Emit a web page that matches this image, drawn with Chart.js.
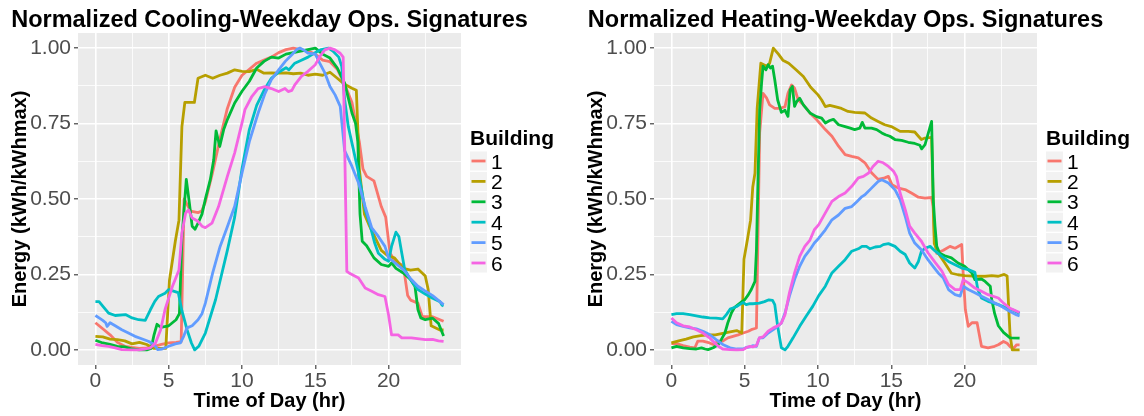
<!DOCTYPE html>
<html>
<head>
<meta charset="utf-8">
<title>Normalized Weekday Ops. Signatures</title>
<script src="https://cdn.jsdelivr.net/npm/chart.js@4.4.1/dist/chart.umd.min.js"></script>
<style>
  html, body { margin: 0; padding: 0; background: #fff; overflow: hidden; }
  .panel { position: absolute; top: 0; height: 416px; }
  #coolPanel { left: 0; width: 575px; }
  #heatPanel { left: 576px; width: 568px; }
</style>
</head>
<body>
<div class="panel" id="coolPanel"><canvas id="cooling" width="575" height="416"></canvas></div>
<div class="panel" id="heatPanel"><canvas id="heating" width="568" height="416"></canvas></div>
<script>
// building ids and ggplot default hue palette
var buildings = ['1', '2', '3', '4', '5', '6'];
var colors = ['#F8766D', '#B79F00', '#00BA38', '#00BFC4', '#619CFF', '#F564E3'];

// axis breaks (majors get labels, minors only a light grid line)
var hourTicks = [0, 2.5, 5, 7.5, 10, 12.5, 15, 17.5, 20, 22.5];
var energyTicks = [0, 0.125, 0.25, 0.375, 0.5, 0.625, 0.75, 0.875, 1];

// cooling season, weekday profiles: [hour, kWh/kWhmax]
var cool1 = [[0,.09],[0.5,.07],[1,.05],[1.5,.025],[2,.012],[2.5,.008],[3,.005],[3.5,.007],[4,.012],[4.5,.018],[5,.023],[5.5,.025],[5.85,.027],[6.05,.5],[6.5,.46],[7,.455],[7.25,.46],[7.5,.49],[8,.59],[8.5,.70],[9,.80],[9.5,.87],[10,.91],[10.5,.93],[11,.95],[11.5,.96],[12,.97],[12.5,.985],[13,.995],[13.5,1.0],[14,.995],[14.5,.99],[15,.98],[15.5,.96],[16,.955],[16.5,.93],[17,.88],[17.5,.82],[18,.69],[18.25,.60],[18.5,.575],[19,.56],[19.5,.475],[19.8,.44],[20.1,.32],[20.5,.29],[21,.28],[21.3,.18],[21.5,.165],[22,.155],[22.3,.11],[23,.11],[23.5,.10],[23.75,.095]];
var cool2 = [[0,.045],[0.5,.043],[1,.036],[1.5,.034],[2,.03],[2.5,.02],[3,.025],[3.5,.018],[4,.005],[4.8,.005],[5.05,.23],[5.45,.36],[5.7,.43],[5.9,.74],[6.1,.82],[6.75,.82],[7,.90],[7.5,.91],[8,.90],[8.5,.91],[9,.917],[9.5,.928],[10,.923],[10.5,.922],[11,.93],[11.5,.917],[12,.918],[12.5,.917],[13,.918],[13.5,.915],[14,.917],[14.5,.91],[15,.914],[15.5,.91],[16,.92],[16.5,.90],[17,.88],[17.5,.867],[17.8,.86],[18,.60],[18.35,.45],[18.7,.41],[19.1,.37],[19.5,.33],[20,.31],[20.4,.305],[21,.27],[21.5,.264],[22,.268],[22.5,.245],[22.7,.2],[22.9,.08],[23.5,.066],[23.75,.066]];
var cool3 = [[0,.032],[0.5,.023],[1,.018],[1.5,.012],[2,.01],[2.5,.003],[3,0],[3.5,0],[3.8,.005],[4,.05],[4.2,.085],[4.45,.075],[5,.08],[5.5,.10],[5.73,.12],[5.9,.37],[6.2,.565],[6.4,.49],[6.6,.41],[6.8,.40],[7,.42],[7.27,.45],[7.5,.50],[7.84,.565],[8.07,.63],[8.23,.726],[8.48,.674],[8.75,.73],[9,.763],[9.5,.818],[10,.857],[10.5,.89],[11,.934],[11.5,.956],[12,.97],[12.5,.967],[13,.98],[13.5,.985],[14,.99],[14.5,.995],[15,1.0],[15.5,.98],[16,.967],[16.5,.934],[17,.884],[17.5,.785],[17.75,.75],[17.9,.69],[18.05,.45],[18.2,.36],[18.5,.345],[19,.305],[19.5,.283],[20,.277],[20.2,.288],[20.5,.27],[21,.255],[21.5,.233],[21.8,.21],[22,.134],[22.2,.106],[22.5,.10],[23,.105],[23.4,.088],[23.75,.046]];
var cool4 = [[0,.16],[0.25,.16],[0.5,.145],[0.9,.122],[1.35,.114],[2.05,.117],[2.5,.106],[2.95,.10],[3.4,.098],[3.75,.133],[4.05,.161],[4.3,.177],[4.75,.188],[5,.2],[5.65,.19],[5.9,.13],[6.25,.067],[6.55,.023],[6.77,0],[7.05,.012],[7.5,.056],[8.2,.167],[9,.33],[9.5,.44],[10,.60],[10.5,.73],[11,.81],[11.5,.86],[12,.90],[12.5,.92],[13,.935],[13.2,.928],[13.6,.95],[14.05,.96],[14.5,.97],[15,.985],[15.4,.995],[15.9,1.0],[16.2,.99],[16.6,.97],[16.8,.94],[17,.83],[17.25,.74],[17.5,.685],[17.95,.586],[18.4,.465],[18.75,.41],[19.05,.354],[19.3,.32],[19.75,.30],[20,.294],[20.2,.343],[20.5,.39],[20.7,.376],[20.9,.32],[21.1,.266],[21.5,.233],[22,.20],[22.5,.185],[23,.171],[23.5,.16],[23.65,.148],[23.75,.146]];
var cool5 = [[0,.114],[0.25,.106],[0.5,.098],[0.7,.09],[0.8,.078],[1,.09],[1.35,.08],[1.8,.067],[2.25,.056],[2.7,.045],[3.2,.036],[3.65,.028],[4,.018],[4.25,.001],[4.55,.003],[5,.012],[5.45,.02],[5.8,.023],[6.02,.045],[6.25,.073],[6.6,.08],[7,.10],[7.27,.12],[7.5,.155],[8,.255],[8.5,.342],[9,.408],[9.5,.476],[10,.586],[10.5,.69],[11.1,.785],[11.57,.85],[12,.895],[12.5,.928],[12.95,.956],[13.4,.978],[13.73,.995],[13.95,1.0],[14.2,.994],[14.5,.983],[15,.98],[15.3,.95],[15.66,.917],[16,.873],[16.35,.845],[16.7,.807],[17,.66],[17.5,.608],[17.95,.553],[18.4,.475],[18.85,.404],[19.3,.376],[19.75,.343],[20,.305],[20.45,.288],[21,.266],[21.55,.233],[22,.211],[22.5,.195],[23,.18],[23.5,.16],[23.75,.15]];
var cool6 = [[0,.018],[0.45,.014],[0.9,.012],[1.35,.007],[1.8,.001],[2.5,0],[2.95,0],[3.4,.003],[3.75,.007],[4.1,.023],[4.45,.067],[4.75,.134],[5.25,.21],[5.7,.265],[5.9,.387],[6.15,.453],[6.35,.464],[6.6,.437],[7,.426],[7.27,.41],[7.5,.405],[7.95,.42],[8.4,.475],[9,.575],[9.5,.653],[10,.752],[10.2,.796],[10.65,.838],[11.1,.866],[11.55,.872],[12,.866],[12.5,.856],[12.93,.866],[13.15,.856],[13.4,.86],[13.6,.878],[14.05,.906],[14.5,.923],[15,.945],[15.3,.972],[15.65,.994],[16,1.0],[16.35,.994],[16.7,.983],[16.9,.97],[17.15,.26],[17.3,.255],[17.95,.238],[18.4,.205],[18.85,.194],[19.3,.183],[19.75,.177],[20,.115],[20.2,.05],[20.65,.05],[20.9,.04],[21.55,.04],[22.5,.034],[23,.035],[23.4,.03],[23.75,.028]];

// heating season, weekday profiles: [hour, kWh/kWhmax]
var heat1 = [[0,.021],[0.35,.021],[0.8,.014],[1.25,.009],[1.6,.007],[1.8,.029],[2.15,.029],[2.6,.023],[2.85,.018],[3.2,.029],[3.5,.029],[3.85,.04],[4.2,.045],[4.55,.05],[4.9,.056],[5.25,.062],[5.45,.067],[5.7,.071],[5.8,.073],[6.02,.72],[6.25,.85],[6.5,.834],[6.7,.812],[7.05,.80],[7.4,.80],[7.75,.806],[7.95,.85],[8.2,.878],[8.4,.867],[8.65,.828],[9,.812],[9.45,.785],[9.9,.763],[10.5,.73],[10.95,.708],[11.4,.675],[11.85,.647],[12.3,.641],[12.75,.636],[13.2,.62],[13.65,.587],[14.1,.565],[14.55,.57],[14.8,.575],[15.05,.547],[15.5,.536],[16,.53],[16.4,.519],[16.85,.506],[17.3,.503],[17.75,.505],[17.85,.475],[17.95,.365],[18.1,.32],[18.55,.33],[19,.343],[19.35,.337],[19.8,.349],[19.9,.256],[20.05,.134],[20.25,.078],[20.5,.09],[20.85,.09],[21.15,.012],[21.6,.007],[22.05,.012],[22.3,.017],[22.65,.028],[22.9,.022],[23.1,.011],[23.35,.006],[23.55,.017],[23.75,.017]];
var heat2 = [[0,.023],[0.5,.03],[1,.036],[1.5,.043],[2,.047],[2.5,.05],[3,.05],[3.5,.055],[4,.06],[4.45,.064],[4.8,.056],[4.95,.30],[5.2,.37],[5.4,.43],[5.55,.54],[5.7,.585],[5.85,.80],[6.1,.95],[6.5,.94],[6.7,.95],[6.95,1.0],[7.3,.98],[7.6,.96],[8,.95],[8.5,.928],[9,.906],[9.5,.87],[10,.845],[10.25,.828],[10.5,.806],[10.8,.81],[11.15,.806],[11.6,.80],[12.05,.79],[12.5,.787],[13.2,.785],[13.65,.768],[14.1,.757],[14.55,.746],[15,.74],[15.6,.724],[16.15,.724],[16.6,.722],[16.85,.708],[17.05,.697],[17.3,.702],[17.75,.704],[17.93,.353],[18.2,.32],[18.65,.288],[19.1,.254],[19.55,.249],[20,.246],[20.9,.244],[21.4,.244],[21.85,.246],[22.3,.244],[22.7,.25],[22.9,.245],[23.1,.05],[23.25,0],[23.75,0]];
var heat3 = [[0,.007],[0.35,.012],[0.8,.007],[1.25,.004],[1.7,.003],[2.05,.007],[2.3,.003],[2.5,.001],[2.85,.007],[3.2,.018],[3.4,.034],[3.65,.056],[3.85,.09],[4.1,.123],[4.3,.14],[4.55,.15],[4.75,.158],[5,.166],[5.25,.183],[5.45,.20],[5.7,.227],[5.8,.33],[5.9,.55],[6.02,.795],[6.15,.884],[6.25,.94],[6.45,.928],[6.6,.945],[6.75,.934],[6.9,.94],[7.05,.895],[7.25,.828],[7.5,.787],[7.75,.794],[7.95,.774],[8.1,.862],[8.25,.873],[8.4,.807],[8.55,.823],[8.75,.834],[9,.812],[9.45,.785],[9.9,.773],[10.25,.768],[10.5,.752],[10.8,.76],[11.05,.764],[11.4,.746],[11.85,.74],[12.2,.735],[12.5,.73],[12.85,.735],[13.02,.754],[13.2,.735],[13.65,.735],[14,.73],[14.35,.719],[14.6,.713],[14.9,.708],[15.25,.697],[15.7,.694],[16.15,.688],[16.6,.684],[16.95,.678],[17.07,.666],[17.3,.68],[17.75,.757],[17.86,.498],[17.98,.41],[18.1,.343],[18.3,.32],[18.65,.312],[19.1,.305],[19.55,.288],[20,.277],[20.5,.255],[20.7,.233],[21.15,.235],[21.4,.227],[21.75,.211],[21.85,.167],[22.05,.12],[22.3,.08],[22.65,.058],[23.1,.04],[23.75,.039]];
var heat4 = [[0,.117],[0.35,.12],[0.8,.12],[1.25,.117],[1.7,.113],[2.15,.109],[2.6,.106],[3.05,.105],[3.5,.103],[3.75,.117],[4,.135],[4.2,.139],[4.45,.144],[4.65,.15],[4.9,.157],[5.1,.15],[5.35,.153],[5.55,.153],[6,.155],[6.35,.16],[6.65,.166],[6.9,.164],[7.05,.15],[7.25,.078],[7.5,.007],[7.75,0],[7.95,.012],[8.3,.04],[8.75,.078],[9.2,.112],[9.65,.145],[10.05,.18],[10.5,.211],[10.95,.255],[11.4,.277],[11.85,.299],[12.3,.327],[12.75,.335],[13,.343],[13.3,.343],[13.55,.335],[13.9,.341],[14.25,.343],[14.45,.349],[14.8,.352],[15.25,.343],[15.6,.327],[15.95,.316],[16.25,.288],[16.6,.271],[16.85,.293],[17.05,.326],[17.3,.337],[17.65,.343],[18,.327],[18.45,.31],[18.9,.293],[19.35,.282],[19.8,.271],[20.25,.266],[20.7,.257],[20.9,.20],[21.15,.172],[21.6,.161],[22.3,.15],[22.9,.138],[23.3,.132],[23.75,.121]];
var heat5 = [[0,.095],[0.35,.084],[0.8,.078],[1.25,.073],[1.7,.07],[2.15,.062],[2.6,.051],[3.05,.034],[3.5,.018],[4,.007],[4.45,.003],[4.9,.003],[5.1,.008],[5.35,.01],[5.55,.014],[5.8,.012],[6,.04],[6.25,.04],[6.6,.056],[6.95,.067],[7.25,.078],[7.5,.089],[7.75,.122],[8.05,.178],[8.4,.233],[8.75,.277],[9.1,.31],[9.45,.332],[9.75,.354],[10.05,.37],[10.5,.398],[10.95,.431],[11.4,.447],[11.85,.469],[12.3,.475],[12.65,.491],[13,.508],[13.2,.514],[13.65,.536],[14.1,.558],[14.35,.564],[14.8,.553],[15.25,.531],[15.6,.498],[15.95,.442],[16.25,.387],[16.6,.354],[17.05,.332],[17.5,.299],[17.85,.277],[18.2,.255],[18.55,.238],[18.9,.20],[19.35,.183],[19.7,.178],[19.9,.211],[20.25,.20],[20.7,.189],[21.15,.178],[21.6,.167],[22.3,.15],[23.1,.127],[23.55,.116],[23.75,.113]];
var heat6 = [[0,.106],[0.35,.09],[0.8,.08],[1.25,.076],[1.7,.067],[2.15,.056],[2.6,.04],[2.95,.023],[3.2,.012],[3.5,.003],[4,.001],[4.45,0],[4.9,.001],[5.1,.007],[5.35,.012],[5.55,.01],[5.8,.014],[6,.04],[6.25,.043],[6.6,.062],[6.95,.073],[7.25,.08],[7.5,.089],[7.75,.117],[8.05,.189],[8.4,.255],[8.75,.31],[9.1,.343],[9.45,.364],[9.75,.398],[10.05,.415],[10.5,.454],[10.95,.492],[11.4,.508],[11.85,.52],[12.3,.542],[12.75,.57],[13.1,.575],[13.45,.586],[13.75,.608],[14.1,.625],[14.45,.62],[14.8,.608],[15.15,.592],[15.35,.575],[15.6,.52],[15.95,.465],[16.25,.41],[16.6,.387],[17.05,.36],[17.5,.322],[18,.289],[18.45,.261],[18.9,.217],[19.35,.20],[19.7,.20],[19.9,.233],[20.25,.222],[20.7,.205],[21.15,.194],[21.6,.183],[22.3,.172],[22.65,.155],[23.1,.138],[23.75,.124]];

var FONT = '"Liberation Sans", Arial, sans-serif';
Chart.defaults.font.family = FONT;

function isMajor(v, step) {
	return Math.abs(v / step - Math.round(v / step)) < 1e-6;
}

// grey panel behind the grid
var panelBackground = {
	id: 'panelBackground',
	beforeDraw: function(chart) {
		var a = chart.chartArea, ctx = chart.ctx;
		ctx.save();
		ctx.fillStyle = '#EBEBEB';
		ctx.fillRect(a.left, a.top, a.right - a.left, a.bottom - a.top);
		ctx.restore();
	}
};

// title centred over the panel
var panelTitle = {
	id: 'panelTitle',
	afterDraw: function(chart, args, opts) {
		var a = chart.chartArea, ctx = chart.ctx;
		ctx.save();
		ctx.fillStyle = '#000';
		ctx.font = 'bold 23.5px ' + FONT;
		ctx.textAlign = 'center';
		ctx.textBaseline = 'alphabetic';
		ctx.fillText(opts.text, (a.left + a.right) / 2, 27);
		ctx.restore();
	}
};

// ggplot style legend: title plus grey key boxes with a line segment
var keyLegend = {
	id: 'keyLegend',
	afterDraw: function(chart, args, opts) {
		var a = chart.chartArea, ctx = chart.ctx;
		var x0 = a.right + 9;
		var mid = (a.top + a.bottom) / 2;
		ctx.save();
		ctx.textAlign = 'left';
		ctx.textBaseline = 'alphabetic';
		ctx.fillStyle = '#000';
		ctx.font = 'bold 21px ' + FONT;
		ctx.fillText(opts.title, x0, mid - 54);
		chart.data.datasets.forEach(function(ds, i) {
			var cy = mid - 38 + i * 20.4;
			ctx.fillStyle = '#F2F2F2';
			ctx.fillRect(x0, cy - 9.5, 17, 19);
			ctx.strokeStyle = ds.borderColor;
			ctx.lineWidth = 2.8;
			ctx.beginPath();
			ctx.moveTo(x0 + 1.5, cy);
			ctx.lineTo(x0 + 15.5, cy);
			ctx.stroke();
			ctx.fillStyle = '#000';
			ctx.font = '21px ' + FONT;
			ctx.fillText(ds.label, x0 + 21, cy + 7.5);
		});
		ctx.restore();
	}
};

function makeChart(canvasId, title, series, padRight) {
	var datasets = series.map(function(points, i) {
		return {
			label: buildings[i],
			data: points,
			borderColor: colors[i],
			backgroundColor: colors[i],
			borderWidth: 2.8,
			borderJoinStyle: 'round',
			pointRadius: 0,
			tension: 0,
			order: series.length - i
		};
	});

	return new Chart(document.getElementById(canvasId), {
		type: 'line',
		data: { datasets: datasets },
		options: {
			responsive: false,
			animation: false,
			events: [],
			layout: { padding: { left: 0, top: 33, right: padRight, bottom: 0 } },
			plugins: {
				legend: { display: false },
				tooltip: { enabled: false },
				panelTitle: { text: title },
				keyLegend: { title: 'Building' }
			},
			scales: {
				x: {
					type: 'linear',
					min: -1.1875,
					max: 24.9375,
					afterBuildTicks: function(s) { s.ticks = hourTicks.map(function(v) { return { value: v }; }); },
					afterFit: function(s) { s.height = 51; },
					border: { display: false },
					grid: {
						color: '#FFFFFF',
						lineWidth: function(c) { return c.tick && isMajor(c.tick.value, 5) ? 1.6 : 0.8; },
						tickColor: function(c) { return c.tick && isMajor(c.tick.value, 5) ? '#333333' : 'rgba(0,0,0,0)'; },
						tickLength: 4,
						tickWidth: 1.1
					},
					ticks: {
						autoSkip: false,
						maxRotation: 0,
						padding: 0,
						color: '#4D4D4D',
						font: { size: 21 },
						callback: function(v) { return isMajor(v, 5) ? String(v) : ''; }
					},
					title: {
						display: true,
						text: 'Time of Day (hr)',
						color: '#000',
						font: { size: 20, weight: 'bold' },
						padding: { top: 0, bottom: 3 }
					}
				},
				y: {
					min: -0.05,
					max: 1.05,
					afterBuildTicks: function(s) { s.ticks = energyTicks.map(function(v) { return { value: v }; }); },
					afterFit: function(s) { s.width = 78; },
					border: { display: false },
					grid: {
						color: '#FFFFFF',
						lineWidth: function(c) { return c.tick && isMajor(c.tick.value, 0.25) ? 1.6 : 0.8; },
						tickColor: function(c) { return c.tick && isMajor(c.tick.value, 0.25) ? '#333333' : 'rgba(0,0,0,0)'; },
						tickLength: 4,
						tickWidth: 1.1
					},
					ticks: {
						autoSkip: false,
						padding: 3,
						color: '#4D4D4D',
						font: { size: 21 },
						callback: function(v) { return isMajor(v, 0.25) ? v.toFixed(2) : ''; }
					},
					title: {
						display: true,
						text: 'Energy (kWh/kWhmax)',
						color: '#000',
						font: { size: 20, weight: 'bold' },
						padding: { top: 8, bottom: 0 }
					}
				}
			}
		},
		plugins: [panelBackground, panelTitle, keyLegend]
	});
}

makeChart('cooling', 'Normalized Cooling-Weekday Ops. Signatures',
	[cool1, cool2, cool3, cool4, cool5, cool6], 114);
makeChart('heating', 'Normalized Heating-Weekday Ops. Signatures',
	[heat1, heat2, heat3, heat4, heat5, heat6], 107);
</script>
</body>
</html>
